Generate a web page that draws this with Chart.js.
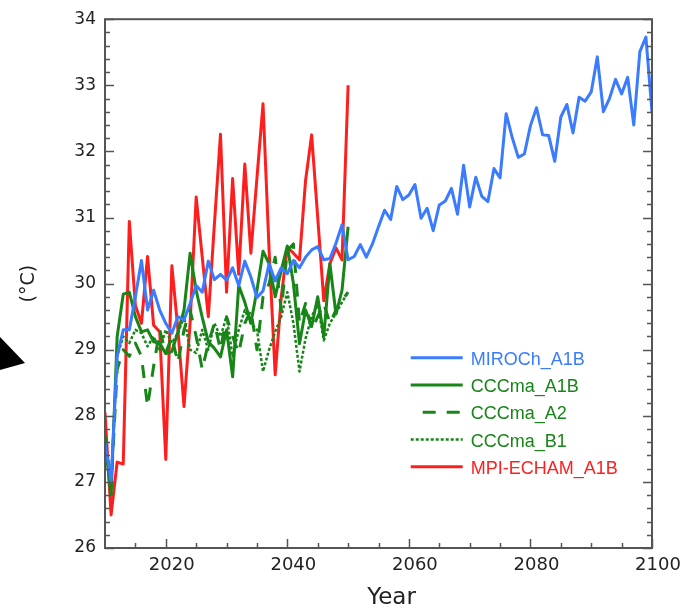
<!DOCTYPE html>
<html>
<head>
<meta charset="utf-8">
<script src="https://cdn.jsdelivr.net/npm/chart.js@4.4.1/dist/chart.umd.min.js"></script>
<style>
  html, body { margin: 0; padding: 0; background: #fff; }
  #wrap { position: relative; width: 698px; height: 613px; }
  #marker { position: absolute; left: 0; top: 0; }
</style>
</head>
<body>
<div id="wrap">
  <canvas id="chart" width="698" height="613"></canvas>
  <svg id="marker" width="60" height="613"><polygon points="0,337 25,363 0,370" fill="#000"/></svg>
</div>
<script>
// Annual temperature projections (°C).
const years = [
  2010, 2011, 2012, 2013, 2014, 2015, 2016, 2017, 2018, 2019,
  2020, 2021, 2022, 2023, 2024, 2025, 2026, 2027, 2028, 2029,
  2030, 2031, 2032, 2033, 2034, 2035, 2036, 2037, 2038, 2039,
  2040, 2041, 2042, 2043, 2044, 2045, 2046, 2047, 2048, 2049,
  2050, 2051, 2052, 2053, 2054, 2055, 2056, 2057, 2058, 2059,
  2060, 2061, 2062, 2063, 2064, 2065, 2066, 2067, 2068, 2069,
  2070, 2071, 2072, 2073, 2074, 2075, 2076, 2077, 2078, 2079,
  2080, 2081, 2082, 2083, 2084, 2085, 2086, 2087, 2088, 2089,
  2090, 2091, 2092, 2093, 2094, 2095, 2096, 2097, 2098, 2099,
  2100
];

const mirocA1B = [
  27.6, 27.0, 28.9, 29.3, 29.3, 29.8, 30.35, 29.6, 29.9, 29.6,
  29.4, 29.25, 29.5, 29.45, 29.7, 29.97, 29.87, 30.34, 30.06, 30.14,
  30.05, 30.24, 29.97, 30.34, 30.1, 29.79, 29.89, 30.3, 30.04, 30.24,
  30.15, 30.35, 30.24, 30.4, 30.51, 30.56, 30.36, 30.38, 30.61, 30.89,
  30.36, 30.41, 30.59, 30.40, 30.60, 30.86, 31.11, 30.97, 31.47, 31.27,
  31.34, 31.50, 30.99, 31.14, 30.80, 31.19, 31.25, 31.44, 31.05, 31.79,
  31.16, 31.61, 31.32, 31.24, 31.74, 31.60, 32.57, 32.21, 31.91, 31.96,
  32.39, 32.66, 32.25, 32.24, 31.85, 32.52, 32.71, 32.28, 32.82, 32.76,
  32.90, 33.43, 32.60, 32.80, 33.09, 32.87, 33.12, 32.40, 33.51, 33.73,
  32.59
];

const cccmaA1B = [
  27.6, 26.8, 29.2, 29.84, 29.87, 29.5, 29.27, 29.3, 29.12, 29.1,
  28.94, 28.97, 29.27, 29.6, 30.46, 29.9, 29.49, 29.12, 29.02, 28.89,
  29.3, 28.59, 29.97, 29.72, 29.4, 29.9, 30.49, 30.3, 29.8, 30.2,
  30.57, 30.0, 29.09, 29.6, 29.35, 29.8, 29.2, 30.3, 29.54, 29.9,
  30.86
];

const cccmaA2 = [
  27.7, 26.9, 28.7, 29.0, 28.9, 29.1, 28.9, 28.14, 28.75, 29.3,
  28.95, 29.2, 28.8, 29.3, 29.6, 29.2, 28.7, 29.1, 29.4, 29.0,
  29.5, 29.2, 28.95, 29.4, 29.6, 29.0, 29.8, 30.0, 30.4, 29.6,
  30.5, 30.6, 29.4, 29.7, 29.3, 29.5, 29.7, 29.4, 29.6, 29.75,
  29.87
];

const cccmaB1 = [
  27.6, 27.0, 28.9, 29.2, 29.1, 29.3, 29.25, 29.05, 29.2, 29.0,
  29.3, 29.1, 29.25, 29.5, 29.0, 28.95, 29.3, 29.0, 29.4, 29.2,
  29.5, 28.9, 29.3, 29.6, 29.4, 29.3, 28.67, 29.0, 29.27, 29.5,
  29.87, 29.4, 28.67, 29.17, 29.5, 29.7, 29.14, 29.4, 29.55, 29.72,
  29.87
];

const mpiA1B = [
  28.05, 26.5, 27.3, 27.27, 30.94, 29.67, 29.4, 30.41, 29.37, 29.27,
  27.34, 30.27, 29.3, 28.14, 29.4, 31.31, 30.4, 29.5, 30.9, 32.26,
  29.87, 31.59, 30.14, 31.81, 30.46, 31.6, 32.72, 30.5, 28.62, 29.8,
  30.55, 30.46, 30.36, 31.56, 32.25, 31.0, 29.74, 30.3, 30.54, 30.36,
  33.0
];

const xTickValues = [2020, 2040, 2060, 2080, 2100];

const BLUE = '#3a7bff';
const GREEN = '#178517';
const RED = '#ff1e1e';
const AXIS = '#555555';
const TEXT = '#222222';

const series = [
  { label: 'MIROCh_A1B', data: mirocA1B, color: BLUE, style: 'solid' },
  { label: 'CCCma_A1B', data: cccmaA1B, color: GREEN, style: 'solid' },
  { label: 'CCCma_A2', data: cccmaA2, color: GREEN, style: 'dash' },
  { label: 'CCCma_B1', data: cccmaB1, color: GREEN, style: 'dot' },
  { label: 'MPI-ECHAM_A1B', data: mpiA1B, color: RED, style: 'solid' }
];

function dashFor(style) {
  if (style === 'dash') return [13, 11];
  if (style === 'dot') return [3, 2];
  return [];
}

// inward ticks on left, right and bottom, plus the plot frame and the x title
const framePlugin = {
  id: 'frame',
  afterDraw(chart) {
    const ctx = chart.ctx;
    const area = chart.chartArea;
    const xs = chart.scales.x;
    const ys = chart.scales.y;
    ctx.save();
    ctx.strokeStyle = AXIS;
    ctx.lineWidth = 2;
    ctx.strokeRect(area.left, area.top, area.right - area.left, area.bottom - area.top);
    ctx.lineWidth = 1.5;
    ctx.beginPath();
    for (let v = 26; v <= 34.001; v += 0.2) {
      const y = Math.round(ys.getPixelForValue(v)) + 0.5;
      const major = Math.abs(v - Math.round(v)) < 0.01;
      const len = major ? 9 : 5;
      ctx.moveTo(area.left, y);
      ctx.lineTo(area.left + len, y);
      ctx.moveTo(area.right, y);
      ctx.lineTo(area.right - len, y);
    }
    for (let v = 2015; v <= 2100; v += 5) {
      const x = Math.round(xs.getPixelForValue(v)) + 0.5;
      const len = v % 20 === 0 ? 9 : 5;
      ctx.moveTo(x, area.bottom);
      ctx.lineTo(x, area.bottom - len);
    }
    ctx.stroke();

    ctx.fillStyle = TEXT;
    ctx.font = '23px "DejaVu Sans", sans-serif';
    ctx.textAlign = 'center';
    ctx.textBaseline = 'middle';
    ctx.fillText('Year', (area.left + area.right) / 2 + 13, 598);
    ctx.restore();
  }
};

const legendPlugin = {
  id: 'insideLegend',
  afterDraw(chart) {
    const ctx = chart.ctx;
    const x0 = chart.scales.x.getPixelForValue(2060.3);
    let y = chart.scales.y.getPixelForValue(28.88);
    ctx.save();
    ctx.font = '18px "Liberation Sans", Arial, sans-serif';
    ctx.textBaseline = 'middle';
    series.forEach(function (s) {
      ctx.strokeStyle = s.color;
      ctx.lineWidth = s.style === 'dot' ? 2.5 : 3;
      ctx.setLineDash(dashFor(s.style));
      ctx.beginPath();
      const startX = s.style === 'dash' ? x0 + 12 : x0;
      ctx.moveTo(startX, y);
      ctx.lineTo(x0 + 52, y);
      ctx.stroke();
      ctx.setLineDash([]);
      ctx.fillStyle = s.color;
      ctx.fillText(s.label, x0 + 60, y + 2);
      y += 27.3;
    });
    ctx.restore();
  }
};

new Chart(document.getElementById('chart'), {
  type: 'line',
  data: {
    labels: years,
    datasets: series.map(function (s) {
      return {
        label: s.label,
        data: s.data,
        borderColor: s.color,
        borderWidth: s.style === 'dot' ? 2.5 : 3,
        borderDash: dashFor(s.style),
        pointRadius: 0,
        tension: 0,
        fill: false,
        borderJoinStyle: 'round',
        borderCapStyle: 'butt'
      };
    })
  },
  options: {
    responsive: false,
    animation: false,
    layout: { padding: { top: 14, right: 46, left: 0, bottom: 0 } },
    plugins: { legend: { display: false }, tooltip: { enabled: false } },
    scales: {
      x: {
        type: 'linear',
        min: 2010,
        max: 2100,
        grid: { display: false, drawTicks: false },
        border: { display: false },
        afterBuildTicks: function (scale) {
          scale.ticks = xTickValues.map(function (v) { return { value: v }; });
        },
        afterFit: function (scale) { scale.height = 65; },
        ticks: {
          color: TEXT,
          padding: 7,
          labelOffset: 6,
          maxRotation: 0,
          font: { family: '"DejaVu Sans", sans-serif', size: 18 },
          callback: function (v) { return String(v); }
        }
      },
      y: {
        min: 26,
        max: 34,
        grid: { display: false, drawTicks: false },
        border: { display: false },
        afterFit: function (scale) { scale.width = 105; },
        ticks: {
          stepSize: 1,
          color: TEXT,
          padding: 9,
          font: { family: '"DejaVu Sans", sans-serif', size: 17 }
        },
        title: {
          display: true,
          text: '(°C)',
          color: TEXT,
          padding: { top: 18, bottom: 0 },
          font: { family: '"DejaVu Sans", sans-serif', size: 19 }
        }
      }
    }
  },
  plugins: [framePlugin, legendPlugin]
});
</script>
</body>
</html>
